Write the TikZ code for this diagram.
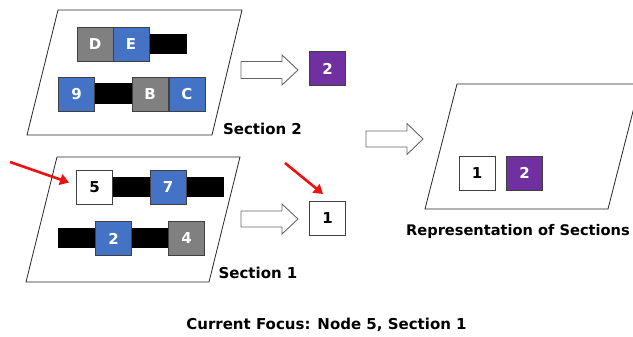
\documentclass[tikz,border=0pt]{standalone}
\usepackage{fontspec}
\setmainfont{DejaVu Sans}
\newfontfamily\lab{DejaVu Sans}
\usetikzlibrary{arrows.meta}
\definecolor{cgray}{HTML}{808080}
\definecolor{cblue}{HTML}{4472C4}
\definecolor{cpurple}{HTML}{7030A0}
\definecolor{cline}{HTML}{404040}
\definecolor{cred}{HTML}{F01010}
\tikzset{
  cell/.style={draw=cline, line width=0.8pt, minimum width=36pt, minimum height=34pt,
    inner sep=0pt, font=\lab\bfseries\fontsize{15}{15}\selectfont},
  gcell/.style={cell, fill=cgray, text=white},
  bcell/.style={cell, fill=cblue, text=white},
  pcell/.style={cell, fill=cpurple, text=white},
  wcell/.style={cell, fill=white, text=black},
  bar/.style={fill=black},
  plane/.style={draw=black!85, line width=0.8pt, fill=white},
  blockarrow/.style={draw=black!60, line width=0.9pt, fill=white},
  caption/.style={font=\lab\bfseries\fontsize{15}{15}\selectfont, inner sep=0pt},
  pointer/.style={draw=cred, line width=2.6pt, -{Triangle[length=9pt,width=11pt]}},
}
\begin{document}
\begin{tikzpicture}[x=1pt,y=-1pt]
\useasboundingbox (0,0) rectangle (633,337);
\clip (0,0) rectangle (633,337);

% ---- Section 2 plane ----
\draw[plane] (58,10) -- (242,10) -- (212,135) -- (27,135) -- cycle;
\fill[bar] (149,34) rectangle (187,54);
\node[gcell] (d) at (95,44.5) {D};
\node[bcell] (e) at (131,44.5) {E};
\fill[bar] (95,83) rectangle (133,104);
\node[bcell] (n9) at (76.5,94) {9};
\node[gcell] (b) at (150,94) {B};
\node[bcell] (c) at (187,94) {C};
\node[caption] (sec2) at (262.5,129) {Section 2};

% ---- Section 1 plane ----
\draw[plane] (57,157) -- (240,157) -- (209,282) -- (26,282) -- cycle;
\fill[bar] (113,177) rectangle (224,197);
\node[wcell] (n5) at (94.5,187) {5};
\node[bcell] (n7) at (168,187) {7};
\fill[bar] (58,228) rectangle (168,248);
\node[bcell] (n2) at (113.5,238.5) {2};
\node[gcell] (n4) at (186.5,238.5) {4};
\node[caption] (sec1) at (258,273) {Section 1};

% ---- block arrows ----
\draw[blockarrow] (241,61.5) -- (282,61.5) -- (282,55) -- (298,70) -- (282,85) -- (282,78.5) -- (241,78.5) -- cycle;
\draw[blockarrow] (241,211) -- (282,211) -- (282,204) -- (298,219) -- (282,234) -- (282,227) -- (241,227) -- cycle;
\draw[blockarrow] (366,131) -- (407,131) -- (407,123.5) -- (423,139) -- (407,154.5) -- (407,147) -- (366,147) -- cycle;

% ---- section results ----
\node[pcell] (r2) at (327.5,68.5) {2};
\node[wcell] (r1) at (327.5,218.5) {1};

% ---- representation plane ----
\draw[plane] (457,84) -- (640,84) -- (608,209) -- (425,209) -- cycle;
\node[wcell] (s1) at (477,173) {1};
\node[pcell] (s2) at (524.5,173) {2};
\node[caption, font=\lab\bfseries\fontsize{14.6}{14.6}\selectfont, anchor=west] (rep) at (406,231) {Representation of Sections};

% ---- focus pointers ----
\coordinate (p1) at (10,162);
\coordinate (q1) at (69,182.5);
\coordinate (p2) at (285,163);
\coordinate (q2) at (323,194);
\draw[pointer] (p1) -- (q1);
\draw[pointer] (p2) -- (q2);

\node[caption] (focus) at (326.5,325) {Current Focus: Node 5, Section 1};
\end{tikzpicture}
\end{document}
